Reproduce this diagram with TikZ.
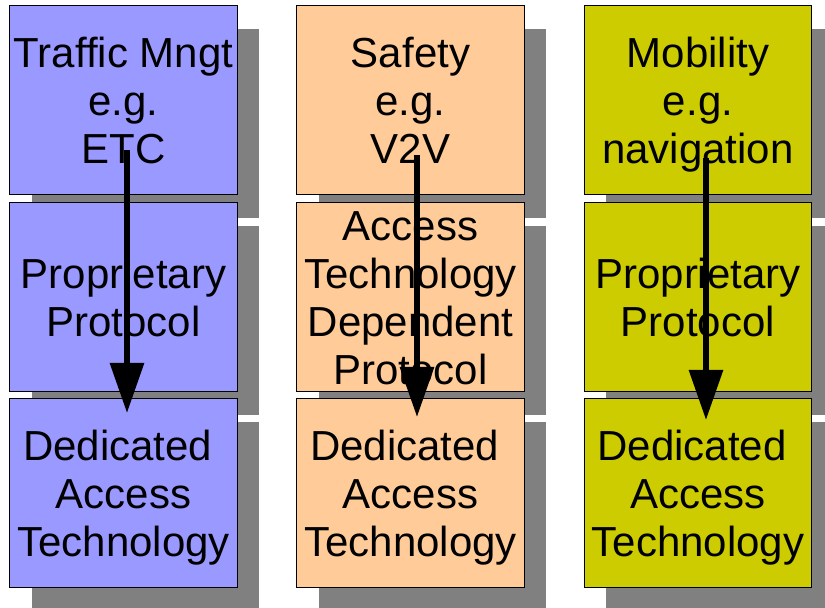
\documentclass[tikz,border=0pt]{standalone}
\usepackage{fontspec}
\setmainfont{Liberation Sans}
\usetikzlibrary{arrows.meta,shadows}
\definecolor{cblue}{HTML}{9999FF}
\definecolor{corange}{HTML}{FFCC99}
\definecolor{colive}{HTML}{CCCC00}
\definecolor{cshadow}{HTML}{808080}
\newcommand\bstrut{\rule[-9pt]{0pt}{48pt}}
\begin{document}
\begin{tikzpicture}[x=1pt,y=1pt,
  box/.style={draw=black,line width=1pt,minimum width=227.5pt,minimum height=189pt,
    inner sep=0pt,outer sep=0pt,
    drop shadow={shadow xshift=22pt,shadow yshift=-23pt,fill=cshadow,opacity=1,draw=none}},
  txt/.style={font=\fontsize{42}{48}\selectfont,align=center,inner sep=0pt},
  arr/.style={line width=6pt,-{Triangle[length=50pt,width=33pt]}}]
\useasboundingbox (0,0) rectangle (825,608);
\fill[white] (0,0) rectangle (825,608);
\clip (0,0) rectangle (825,608);
% column 1
\node[box,fill=cblue,label={[txt]center:{\bstrut Traffic Mngt\\e.g.\\ETC\bstrut}}] (t1) at (123.5,507.5) {};
\node[box,fill=cblue,label={[txt]center:{\bstrut Proprietary\\Protocol\bstrut}}] (m1) at (123.5,310.5) {};
\node[box,fill=cblue,label={[txt]center:{\bstrut Dedicated\hspace*{11.7pt}\\Access\\Technology\bstrut}}] (b1) at (123.5,114.5) {};
% column 2
\node[box,fill=corange,label={[txt]center:{\bstrut Safety\\e.g.\\V2V\bstrut}}] (t2) at (410.5,507.5) {};
\node[box,fill=corange,label={[txt]center:{\bstrut Access\\Technology\\Dependent\\Protocol\bstrut}}] (m2) at (410.5,310.5) {};
\node[box,fill=corange,label={[txt]center:{\bstrut Dedicated\hspace*{11.7pt}\\Access\\Technology\bstrut}}] (b2) at (410.5,114.5) {};
% column 3
\node[box,fill=colive,label={[txt]center:{\bstrut Mobility\\e.g.\\navigation\bstrut}}] (t3) at (698,507.5) {};
\node[box,fill=colive,label={[txt]center:{\bstrut Proprietary\\Protocol\bstrut}}] (m3) at (698,310.5) {};
\node[box,fill=colive,label={[txt]center:{\bstrut Dedicated\hspace*{11.7pt}\\Access\\Technology\bstrut}}] (b3) at (698,114.5) {};
% arrows
\draw[arr] ([shift={(3.5,-49.5)}]t1.center) -- ([shift={(3.5,80.5)}]b1.center);
\draw[arr] ([shift={(6.5,-54.5)}]t2.center) -- ([shift={(6.5,76.5)}]b2.center);
\draw[arr] ([shift={(8,-57.5)}]t3.center) -- ([shift={(8,73.5)}]b3.center);
\end{tikzpicture}
\end{document}
